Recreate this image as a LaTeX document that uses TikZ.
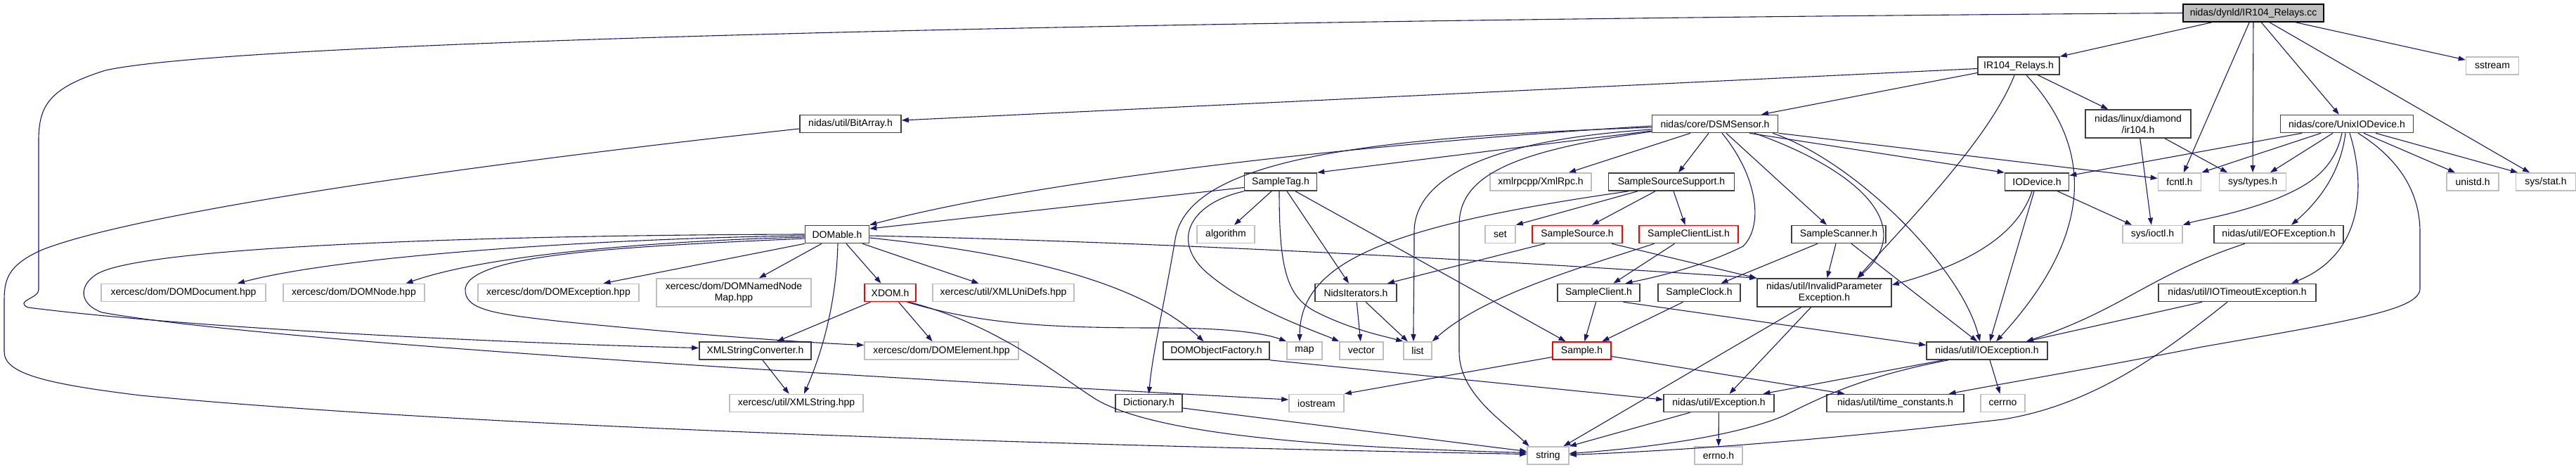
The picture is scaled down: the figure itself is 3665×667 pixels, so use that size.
\documentclass[tikz,border=0pt]{standalone}
\usepackage{fontspec}
\setmainfont{Liberation Sans}
\usepackage{tikz}
\usetikzlibrary{arrows.meta}
\definecolor{edgeblue}{HTML}{191970}
\definecolor{extgray}{HTML}{BFBFBF}
\definecolor{docgray}{HTML}{404040}
\begin{document}
\begin{tikzpicture}[x=1pt,y=-1pt,>={Triangle[length=10pt,width=7pt]},
   font=\fontsize{14}{16}\selectfont,
   base/.style={rectangle,inner sep=0pt,minimum height=25pt,line width=1.6pt,align=center},
   doc/.style={base,draw=docgray},
   ext/.style={base,draw=extgray},
   trunc/.style={base,draw=red},
   rootbox/.style={base,draw=black,fill=extgray},
   tall/.style={minimum height=40pt},
   edge/.style={->,draw=edgeblue,line width=1.1pt}]
  \fill[white] (0,0) rectangle (3665,667);
  \useasboundingbox (0,0) rectangle (3665,667);
  \node[rootbox,minimum width=200pt] (root) at (3206,18.5) {nidas/dynld/IR104\_Relays.cc};
  \node[doc,minimum width=116pt] (irh) at (2872,93.5) {IR104\_Relays.h};
  \node[ext,minimum width=75pt] (sstr) at (3546,93.5) {sstream};
  \node[doc,minimum width=144pt] (bitarr) at (1210,176) {nidas/util/BitArray.h};
  \node[doc,minimum width=179pt] (dsm) at (2440,176) {nidas/core/DSMSensor.h};
  \node[doc,tall,minimum width=150pt] (ir104) at (3042,176) {nidas/linux/diamond\\/ir104.h};
  \node[doc,minimum width=189pt] (uio) at (3339,176) {nidas/core/UnixIODevice.h};
  \node[doc,minimum width=103pt] (stag) at (1822,258.5) {SampleTag.h};
  \node[ext,minimum width=144pt] (xmlrpc) at (2192,258.5) {xmlrpcpp/XmlRpc.h};
  \node[doc,minimum width=179pt] (sss) at (2378,258.5) {SampleSourceSupport.h};
  \node[doc,minimum width=91pt] (iodev) at (2898,258.5) {IODevice.h};
  \node[ext,minimum width=61pt] (fcntl) at (3101,258.5) {fcntl.h};
  \node[ext,minimum width=95pt] (systypes) at (3205,258.5) {sys/types.h};
  \node[ext,minimum width=74pt] (unistd) at (3518,258.5) {unistd.h};
  \node[ext,minimum width=85pt] (sysstat) at (3622,258.5) {sys/stat.h};
  \node[doc,minimum width=91pt] (domable) at (1191,333) {DOMable.h};
  \node[ext,minimum width=82pt] (algo) at (1744,333) {algorithm};
  \node[ext,minimum width=43pt] (hset) at (2134.5,333) {set};
  \node[trunc,minimum width=128pt] (ssrc) at (2244,333) {SampleSource.h};
  \node[trunc,minimum width=141pt] (scl) at (2402.5,333) {SampleClientList.h};
  \node[doc,minimum width=134pt] (sscan) at (2616,333) {SampleScanner.h};
  \node[ext,minimum width=85pt] (ioctl) at (3062.5,333) {sys/ioctl.h};
  \node[doc,minimum width=184pt] (eofx) at (3242,333) {nidas/util/EOFException.h};
  \node[ext,minimum width=234pt] (domdoc) at (261,416) {xercesc/dom/DOMDocument.hpp};
  \node[ext,minimum width=201pt] (domnode) at (503.5,416) {xercesc/dom/DOMNode.hpp};
  \node[ext,minimum width=229pt] (domexc) at (794.5,416) {xercesc/dom/DOMException.hpp};
  \node[ext,tall,minimum width=220pt] (domnnm) at (1044,416) {xercesc/dom/DOMNamedNode\\Map.hpp};
  \node[trunc,minimum width=73pt] (xdom) at (1266.5,416) {XDOM.h};
  \node[ext,minimum width=201pt] (xuni) at (1427.5,416) {xercesc/util/XMLUniDefs.hpp};
  \node[doc,minimum width=116pt] (nidsit) at (1929,416) {NidsIterators.h};
  \node[doc,minimum width=117pt] (scli) at (2274.5,416) {SampleClient.h};
  \node[doc,minimum width=117pt] (sclk) at (2417.5,416) {SampleClock.h};
  \node[doc,tall,minimum width=191pt] (ipe) at (2595.5,416) {nidas/util/InvalidParameter\\Exception.h};
  \node[doc,minimum width=224pt] (iotmo) at (3183,416) {nidas/util/IOTimeoutException.h};
  \node[doc,minimum width=159pt] (xsc) at (1074.5,498.5) {XMLStringConverter.h};
  \node[ext,minimum width=219pt] (domelem) at (1339.5,498.5) {xercesc/dom/DOMElement.hpp};
  \node[doc,minimum width=151pt] (dof) at (1730.5,498.5) {DOMObjectFactory.h};
  \node[ext,minimum width=50pt] (hmap) at (1856,498.5) {map};
  \node[ext,minimum width=62pt] (hvector) at (1937,498.5) {vector};
  \node[ext,minimum width=40pt] (hlist) at (2017,498.5) {list};
  \node[trunc,minimum width=83pt] (sample) at (2250.5,498.5) {Sample.h};
  \node[doc,minimum width=172pt] (ioe) at (2827,498.5) {nidas/util/IOException.h};
  \node[ext,minimum width=190pt] (xmlstr) at (1133,573) {xercesc/util/XMLString.hpp};
  \node[doc,minimum width=95pt] (dict) at (1634.5,573) {Dictionary.h};
  \node[ext,minimum width=78pt] (iostr) at (1873,573) {iostream};
  \node[doc,minimum width=157pt] (exc) at (2445.5,573) {nidas/util/Exception.h};
  \node[doc,minimum width=195pt] (tconst) at (2696.5,573) {nidas/util/time\_constants.h};
  \node[ext,minimum width=63pt] (cerrno) at (2849.5,573) {cerrno};
  \node[ext,minimum width=59pt] (hstring) at (2202.5,647.5) {string};
  \node[ext,minimum width=68pt] (errno) at (2445,647.5) {errno.h};
  \draw[edge] (root) -- (irh);
  \draw[edge] (root) -- (sstr);
  \draw[edge] (root) -- (fcntl);
  \draw[edge] (root) -- (systypes);
  \draw[edge] (root) -- (uio);
  \draw[edge] (root) -- (sysstat);
  \draw[edge] (root.west) .. controls (1500,30) and (330,60) .. (150,100) .. controls (70,125) and (55,150) .. (55,200) -- (55,412) .. controls (55,424) and (20,428) .. (40,437) .. controls (300,470) and (800,490) .. ([yshift=4pt]xsc.west);
  \draw[edge] ([yshift=-4pt]irh.west) -- ([yshift=5pt]bitarr.east);
  \draw[edge] ([yshift=-10pt]irh.west) -- ([xshift=66pt]dsm.north);
  \draw[edge] (irh) -- (ir104);
  \draw[edge] ([xshift=-6pt]irh.south) .. controls (2830,200) and (2700,330) .. ([xshift=47pt]ipe.north);
  \draw[edge] ([xshift=11pt]irh.south) .. controls (2950,180) and (3010,300) .. ([xshift=13pt]ioe.north);
  \draw[edge] ([xshift=38pt]ir104.south) -- ([xshift=-36pt]systypes.north);
  \draw[edge] (ir104) -- (ioctl);
  \draw[edge] ([xshift=-64pt]uio.south) -- ([yshift=9pt]iodev.east);
  \draw[edge] ([xshift=-37pt]uio.south) -- (fcntl.north east);
  \draw[edge] ([xshift=-20pt]uio.south) -- ([xshift=25pt]systypes.north);
  \draw[edge] ([xshift=-7pt]uio.south) .. controls (3320,245) and (3280,265) .. (3240,282) .. controls (3180,305) and (3130,312) .. (ioctl.north east);
  \draw[edge] ([xshift=-2pt]uio.south) .. controls (3330,245) and (3300,285) .. ([xshift=18pt]eofx.north);
  \draw[edge] ([xshift=4pt]uio.south) .. controls (3365,260) and (3365,360) .. ([xshift=77pt]iotmo.north);
  \draw[edge] ([xshift=16pt]uio.south) .. controls (3420,230) and (3443,280) .. (3443,330) -- (3443,410) .. controls (3443,440) and (3350,455) .. (3133,493) .. controls (2970,525) and (2850,545) .. ([xshift=76pt]tconst.north);
  \draw[edge] ([xshift=24pt]uio.south) -- ([xshift=-25pt]unistd.north);
  \draw[edge] ([xshift=41pt]uio.south) -- ([xshift=-40pt]sysstat.north);
  \draw[edge] (iodev) -- (ioctl);
  \draw[edge] ([xshift=-4pt]iodev.south) -- ([xshift=4pt]ioe.north);
  \draw[edge] ([xshift=-7pt]iodev.south) .. controls (2870,335) and (2800,375) .. ([yshift=11pt]ipe.east);
  \draw[edge] ([xshift=-9pt]dsm.south) -- ([xshift=10pt]sss.north);
  \draw[edge] ([xshift=-35pt]dsm.south) -- ([xshift=40pt]xmlrpc.north);
  \draw[edge] ([xshift=10pt]dsm.south) .. controls (2500,250) and (2510,320) .. (2480,350) .. controls (2420,380) and (2350,395) .. ([xshift=38pt]scli.north);
  \draw[edge] ([xshift=16pt]dsm.south) -- ([xshift=-17pt]sscan.north);
  \draw[edge] ([xshift=49pt]dsm.south) -- (iodev.north west);
  \draw[edge] ([xshift=56pt]dsm.south) .. controls (2640,240) and (2730,320) .. ([xshift=47pt]ipe.north);
  \draw[edge] ([xshift=-8pt]dsm.south east) .. controls (2640,230) and (2790,380) .. ([xshift=-10pt]ioe.north);
  \draw[edge] (dsm.south east) -- ([yshift=5pt]fcntl.west);
  \draw[edge] ([yshift=-10pt]dsm.west) -- (stag.north east);
  \draw[edge] ([yshift=-3pt]dsm.west) .. controls (2000,200) and (1500,250) .. (domable.north east);
  \draw[edge] ([yshift=-5pt]dsm.west) .. controls (1950,195) and (1690,225) .. (1672,340) .. controls (1655,440) and (1640,500) .. (dict.north);
  \draw[edge] ([yshift=-8pt]dsm.west) .. controls (2100,200) and (2012,260) .. (2012,330) .. controls (2012,400) and (2011,440) .. ([xshift=-6pt]hlist.north);
  \draw[edge] ([yshift=-11pt]dsm.west) .. controls (2150,215) and (2076,250) .. (2076,320) -- (2076,500) .. controls (2076,560) and (2140,600) .. ([xshift=-27pt]hstring.north);
  \draw[edge] ([yshift=-8pt]stag.west) -- ([yshift=8pt]domable.east);
  \draw[edge] ([xshift=-13pt]stag.south) -- ([xshift=12pt]algo.north);
  \draw[edge] (stag.south west) .. controls (1690,290) and (1665,345) .. (1720,390) .. controls (1780,440) and (1870,470) .. (hvector.north west);
  \draw[edge] ([xshift=-2pt]stag.south) .. controls (1820,380) and (1830,420) .. (1870,442) .. controls (1920,468) and (1970,478) .. (hlist.north west);
  \draw[edge] ([xshift=9pt]stag.south) -- ([xshift=-10pt]nidsit.north);
  \draw[edge] ([xshift=21pt]stag.south) -- ([xshift=-23pt]sample.north);
  \draw[edge] ([xshift=-48pt]sss.south) -- (hset.north east);
  \draw[edge] ([xshift=-23pt]sss.south) -- ([xshift=21pt]ssrc.north);
  \draw[edge] ([xshift=3pt]sss.south) -- ([xshift=-5pt]scl.north);
  \draw[edge] ([xshift=-61pt]sss.south) .. controls (1980,320) and (1850,370) .. ([xshift=-7pt]hmap.north);
  \draw[edge] ([xshift=-46pt]ssrc.south) -- ([xshift=45pt]nidsit.north);
  \draw[edge] ([xshift=49pt]ssrc.south) -- (ipe.north west);
  \draw[edge] ([xshift=-20pt]scl.south) -- ([xshift=21pt]scli.north);
  \draw[edge] ([xshift=-49pt]scl.south) .. controls (2250,380) and (2110,420) .. (hlist.north east);
  \draw[edge] ([xshift=-30pt]sscan.south) -- ([xshift=31pt]sclk.north);
  \draw[edge] ([xshift=-4pt]sscan.south) -- ([xshift=4pt]ipe.north);
  \draw[edge] ([xshift=18pt]sscan.south) -- ([xshift=-14pt]ioe.north);
  \draw[edge] (nidsit) -- (hvector);
  \draw[edge] (nidsit) -- (hlist);
  \draw[edge] (scli) -- (sample);
  \draw[edge] ([xshift=35pt]scli.south) -- ([yshift=8pt]ioe.west);
  \draw[edge] ([xshift=-23pt]sclk.south) -- ([xshift=29pt]sample.north);
  \draw[edge] ([xshift=-33pt]ipe.south) -- ([xshift=22pt]hstring.north);
  \draw[edge] ([xshift=-19pt]ipe.south) -- ([xshift=15pt]exc.north);
  \draw[edge] ([yshift=-9pt]sample.west) -- (iostr.north east);
  \draw[edge] ([yshift=-8pt]sample.east) -- ([xshift=-72pt]tconst.north);
  \draw[edge] ([xshift=-62pt]ioe.south) -- ([xshift=63pt]exc.north);
  \draw[edge] ([xshift=-55pt]ioe.south) .. controls (2650,535) and (2590,565) .. (2540,590) .. controls (2460,625) and (2300,640) .. ([yshift=3pt]hstring.east);
  \draw[edge] (ioe) -- (cerrno);
  \draw[edge] ([xshift=-50pt]iotmo.south) -- ([xshift=56pt]ioe.north);
  \draw[edge] ([xshift=-14pt]iotmo.south) .. controls (3080,500) and (2980,575) .. (2850,596) .. controls (2600,625) and (2400,640) .. ([yshift=1pt]hstring.east);
  \draw[edge] ([xshift=-48pt]eofx.south) .. controls (3060,390) and (3020,440) .. ([xshift=56pt]ioe.north);
  \draw[edge] ([xshift=-41pt]exc.south) -- (hstring.north east);
  \draw[edge] (exc) -- (errno);
  \draw[edge] ([yshift=-7pt]dict.east) -- ([yshift=6pt]hstring.west);
  \draw[edge] (dof.south east) -- ([yshift=5pt]exc.west);
  \draw[edge] (xsc) -- (xmlstr);
  \draw[edge] ([yshift=-7pt]bitarr.west) .. controls (700,230) and (200,300) .. (60,355) .. controls (8,378) and (6,400) .. (6,430) -- (6,500) .. controls (6,530) and (60,545) .. (200,562) .. controls (700,610) and (1600,635) .. ([yshift=2pt]hstring.west);
  \draw[edge] ([yshift=-2pt]domable.west) .. controls (900,338) and (500,360) .. ([xshift=77pt]domdoc.north);
  \draw[edge] ([yshift=-4pt]domable.west) .. controls (950,342) and (700,360) .. ([xshift=74pt]domnode.north);
  \draw[edge] (domable.south west) -- ([xshift=64pt]domexc.north);
  \draw[edge] ([xshift=-22pt]domable.south) -- ([xshift=36pt]domnnm.north);
  \draw[edge] ([xshift=13pt]domable.south) -- ([xshift=-13pt]xdom.north);
  \draw[edge] ([xshift=36pt]domable.south) -- ([xshift=-35pt]xuni.north);
  \draw[edge] ([xshift=1pt]domable.south) .. controls (1190,430) and (1170,500) .. ([xshift=11pt]xmlstr.north);
  \draw[edge] ([yshift=-5pt]domable.east) .. controls (1450,360) and (1620,400) .. ([xshift=-18pt]dof.north);
  \draw[edge] ([yshift=-2pt]domable.east) .. controls (1700,345) and (2200,375) .. (ipe.north west);
  \draw[edge] ([yshift=-6pt]domable.west) .. controls (900,350) and (670,360) .. (662,410) .. controls (660,440) and (700,446) .. (800,457) .. controls (1000,477) and (1150,487) .. ([yshift=8pt]domelem.west);
  \draw[edge] (domable.west) .. controls (700,334) and (200,350) .. (137,390) .. controls (112,406) and (112,432) .. (145,444) .. controls (400,490) and (1400,545) .. ([yshift=5pt]iostr.west);
  \draw[edge] ([xshift=-28pt]xdom.south) -- ([xshift=31pt]xsc.north);
  \draw[edge] ([xshift=12pt]xdom.south) -- ([xshift=-13pt]domelem.north);
  \draw[edge] ([xshift=24pt]xdom.south) .. controls (1400,462) and (1500,466) .. (1650,466) .. controls (1750,466) and (1800,474) .. (hmap.north west);
  \draw[edge] ([xshift=27pt]xdom.south) .. controls (1420,462) and (1500,530) .. (1560,568) .. controls (1650,620) and (1900,636) .. ([yshift=4pt]hstring.west);
\end{tikzpicture}
\end{document}
